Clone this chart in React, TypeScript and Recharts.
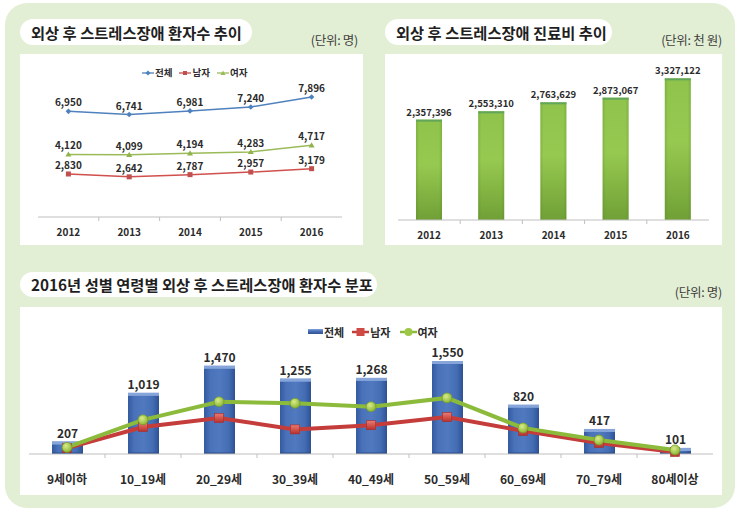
import React from 'react';
import { LineChart, Line, BarChart, Bar, ComposedChart, XAxis, YAxis, LabelList } from 'recharts';

// ---------- data ----------
const years = ['2012', '2013', '2014', '2015', '2016'];
const totalPatients = [6950, 6741, 6981, 7240, 7896];
const malePatients = [2830, 2642, 2787, 2957, 3179];
const femalePatients = [4120, 4099, 4194, 4283, 4717];
const medicalCost = [2357396, 2553310, 2763629, 2873067, 3327122];

const ageGroups = ['9세이하', '10_19세', '20_29세', '30_39세', '40_49세', '50_59세', '60_69세', '70_79세', '80세이상'];
const ageTotal = [207, 1019, 1470, 1255, 1268, 1550, 820, 417, 101];
const ageMale = [97, 450, 600, 410, 480, 615, 385, 185, 33];
const ageFemale = [110, 569, 870, 845, 788, 935, 435, 232, 68];

const seriesNames = ['전체', '남자', '여자'];
const titles = [
  '외상 후 스트레스장애 환자수 추이',
  '외상 후 스트레스장애 진료비 추이',
  '2016년 성별 연령별 외상 후 스트레스장애 환자수 분포',
];
const units = ['(단위: 명)', '(단위: 천 원)', '(단위: 명)'];

const yearData = years.map((y, i) => ({
  year: y,
  total: totalPatients[i],
  male: malePatients[i],
  female: femalePatients[i],
  cost: medicalCost[i],
}));
const ageData = ageGroups.map((g, i) => ({
  group: g,
  total: ageTotal[i],
  male: ageMale[i],
  female: ageFemale[i],
}));

// ---------- style ----------
const FONT = "'Noto Sans CJK KR', 'Noto Sans', sans-serif";
const LABEL_COLOR = '#2b2b2b';
const AXIS_COLOR = '#bfbfbf';
const BG_GREEN = '#e3efd5';
const fmt = (v: any) => Number(v).toLocaleString('en-US');

const CategoryTick = (props: any) => {
  const { x, y, payload, band, lastLabel, fontSize, dy } = props;
  const isLast = payload.value === lastLabel;
  return (
    <g>
      {!isLast && (
        <line x1={x + band / 2} x2={x + band / 2} y1={y} y2={y + 4} stroke={AXIS_COLOR} strokeWidth={1} />
      )}
      <text
        x={x}
        y={y + dy}
        textAnchor="middle"
        fontSize={fontSize}
        fontWeight="bold"
        fill={LABEL_COLOR}
        fontFamily={FONT}
      >
        {payload.value}
      </text>
    </g>
  );
};

// ---------- chart 1 : line ----------
const W1 = 343, H1 = 191;
const M1 = { top: 11, right: 21, bottom: 0, left: 18 };
const BAND1 = (W1 - M1.left - M1.right) / years.length;

const smallDot = (shape: string, color: string) => (p: any) => {
  const { cx, cy, index } = p;
  if (cx == null || cy == null) return <g key={index} />;
  if (shape === 'square') return <rect key={index} x={cx - 2.5} y={cy - 2.5} width={5} height={5} fill={color} />;
  if (shape === 'triangle')
    return <path key={index} d={`M${cx},${cy - 3} L${cx + 3},${cy + 2.2} L${cx - 3},${cy + 2.2} Z`} fill={color} />;
  return <path key={index} d={`M${cx},${cy - 2.8} L${cx + 2.8},${cy} L${cx},${cy + 2.8} L${cx - 2.8},${cy} Z`} fill={color} />;
};

const labelProps = { fill: LABEL_COLOR, fontSize: 10, fontWeight: 'bold', fontFamily: FONT } as any;

const Chart1 = () => (
  <LineChart width={W1} height={H1} data={yearData} margin={M1}>
    <XAxis
      dataKey="year"
      interval={0}
      height={28}
      padding={{ left: BAND1 / 2, right: BAND1 / 2 }}
      axisLine={{ stroke: AXIS_COLOR }}
      tickLine={false}
      tickSize={0}
      tickMargin={0}
      tick={(p: any) => <CategoryTick {...p} band={BAND1} lastLabel={years[years.length - 1]} fontSize={10} dy={18.5} />}
    />
    <YAxis hide domain={[0, 10000]} />
    <Line dataKey="total" stroke="#4f81bd" strokeWidth={1.5} dot={smallDot('diamond', '#4f81bd')} isAnimationActive={false}>
      <LabelList dataKey="total" position="top" offset={5} formatter={fmt} {...labelProps} />
    </Line>
    <Line dataKey="male" stroke="#d0504d" strokeWidth={1.5} dot={smallDot('square', '#c0504d')} isAnimationActive={false}>
      <LabelList dataKey="male" position="top" offset={5} formatter={fmt} {...labelProps} />
    </Line>
    <Line dataKey="female" stroke="#9bbb59" strokeWidth={1.5} dot={smallDot('triangle', '#8fb34a')} isAnimationActive={false}>
      <LabelList dataKey="female" position="top" offset={5} formatter={fmt} {...labelProps} />
    </Line>
  </LineChart>
);

// ---------- chart 2 : bar ----------
const W2 = 337, H2 = 191;
const M2 = { top: 17, right: 13, bottom: 0, left: 13 };
const BAND2 = (W2 - M2.left - M2.right) / years.length;

const GreenBar = (p: any) => {
  const { x, y, width, height } = p;
  if (!height || height <= 0) return <g />;
  return (
    <g>
      <rect x={x} y={y} width={width} height={height} fill="url(#greenBody)" />
      <rect x={x} y={y} width={width} height={height} fill="url(#greenSide)" />
      <rect x={x} y={y} width={width} height={2} fill="#62a65a" />
    </g>
  );
};

const Chart2 = () => (
  <BarChart width={W2} height={H2} data={yearData} margin={M2}>
    <defs>
      <linearGradient id="greenBody" x1="0" y1="0" x2="0" y2="1">
        <stop offset="0" stopColor="#8fc34b" />
        <stop offset="0.45" stopColor="#96c950" />
        <stop offset="1" stopColor="#70a036" />
      </linearGradient>
      <linearGradient id="greenSide" x1="0" y1="0" x2="1" y2="0">
        <stop offset="0" stopColor="#4a7a20" stopOpacity="0.25" />
        <stop offset="0.12" stopColor="#4a7a20" stopOpacity="0" />
        <stop offset="0.88" stopColor="#4a7a20" stopOpacity="0" />
        <stop offset="1" stopColor="#4a7a20" stopOpacity="0.25" />
      </linearGradient>
    </defs>
    <XAxis
      dataKey="year"
      interval={0}
      height={25}
      axisLine={{ stroke: AXIS_COLOR }}
      tickLine={false}
      tickSize={0}
      tickMargin={0}
      tick={(p: any) => <CategoryTick {...p} band={BAND2} lastLabel={years[years.length - 1]} fontSize={10} dy={18.5} />}
    />
    <YAxis hide domain={[0, 3500000]} />
    <Bar dataKey="cost" barSize={26} shape={GreenBar} isAnimationActive={false}>
      <LabelList dataKey="cost" position="top" offset={4} formatter={fmt} fill={LABEL_COLOR} fontSize={9.5} fontWeight="bold" fontFamily={FONT} />
    </Bar>
  </BarChart>
);

// ---------- chart 3 : composed ----------
const W3 = 702, H3 = 188;
const M3 = { top: 27, right: 9, bottom: 0, left: 9 };
const BAND3 = (W3 - M3.left - M3.right) / ageGroups.length;

const BlueBar = (p: any) => {
  const { x, y, width, height } = p;
  if (!height || height <= 0) return <g />;
  return (
    <g>
      <rect x={x} y={y} width={width} height={height} fill="url(#blueBody)" />
      <rect x={x} y={y} width={width} height={Math.min(3, height)} fill="#86a5da" />
      <rect x={x} y={y + height - 1.5} width={width} height={1.5} fill="#2b4c8c" />
    </g>
  );
};

const redSquare = (p: any) => {
  const { cx, cy, index } = p;
  if (cx == null || cy == null) return <g key={index} />;
  return <rect key={index} x={cx - 4.5} y={cy - 4.5} width={9} height={9} fill="url(#redMarker)" stroke="#a82c28" strokeWidth={0.6} />;
};
const greenCircle = (p: any) => {
  const { cx, cy, index } = p;
  if (cx == null || cy == null) return <g key={index} />;
  return <circle key={index} cx={cx} cy={cy} r={5} fill="url(#greenMarker)" stroke="#6f9a25" strokeWidth={0.7} />;
};

const Chart3 = () => (
  <ComposedChart width={W3} height={H3} data={ageData} margin={M3}>
    <defs>
      <linearGradient id="blueBody" x1="0" y1="0" x2="1" y2="0">
        <stop offset="0" stopColor="#34599f" />
        <stop offset="0.2" stopColor="#4a72b9" />
        <stop offset="0.5" stopColor="#5179bf" />
        <stop offset="0.8" stopColor="#456db4" />
        <stop offset="1" stopColor="#2e5193" />
      </linearGradient>
      <linearGradient id="redMarker" x1="0" y1="0" x2="0" y2="1">
        <stop offset="0" stopColor="#ec7a70" />
        <stop offset="1" stopColor="#b8302c" />
      </linearGradient>
      <radialGradient id="greenMarker" cx="0.4" cy="0.35" r="0.7">
        <stop offset="0" stopColor="#d9ec8a" />
        <stop offset="1" stopColor="#86b22e" />
      </radialGradient>
    </defs>
    <XAxis
      dataKey="group"
      interval={0}
      height={41}
      axisLine={{ stroke: AXIS_COLOR }}
      tickLine={false}
      tickSize={0}
      tickMargin={0}
      tick={(p: any) => <CategoryTick {...p} band={BAND3} lastLabel={ageGroups[ageGroups.length - 1]} fontSize={12} dy={29.5} />}
    />
    <YAxis hide domain={[0, 2000]} />
    <Bar dataKey="total" barSize={31} shape={BlueBar} isAnimationActive={false}>
      <LabelList dataKey="total" position="top" offset={4} formatter={fmt} fill={LABEL_COLOR} fontSize={12} fontWeight="bold" fontFamily={FONT} />
    </Bar>
    <Line dataKey="male" stroke="#c43d3a" strokeWidth={4} dot={redSquare} isAnimationActive={false} />
    <Line dataKey="female" stroke="#8cbb3c" strokeWidth={4} dot={greenCircle} isAnimationActive={false} />
  </ComposedChart>
);

// ---------- legends ----------
const LegendLine = ({ color, marker }: { color: string; marker: string }) => (
  <svg width={12} height={8} style={{ display: 'block' }}>
    <line x1={0} x2={12} y1={4} y2={4} stroke={color} strokeWidth={1.3} />
    {marker === 'square' && <rect x={4} y={2} width={4} height={4} fill={color} />}
    {marker === 'diamond' && <path d="M6,1.5 L8.5,4 L6,6.5 L3.5,4 Z" fill={color} />}
    {marker === 'triangle' && <path d="M6,1.5 L8.5,6 L3.5,6 Z" fill={color} />}
  </svg>
);

const Legend1 = () => {
  const items = [
    { name: seriesNames[0], color: '#4f81bd', marker: 'diamond' },
    { name: seriesNames[1], color: '#c0504d', marker: 'square' },
    { name: seriesNames[2], color: '#9bbb59', marker: 'triangle' },
  ];
  return (
    <div style={{ position: 'absolute', left: 142, top: 65, height: 15, display: 'flex', alignItems: 'center' }}>
      {items.map((it, i) => (
        <div key={i} style={{ display: 'flex', alignItems: 'center', marginRight: i < 2 ? 7 : 0 }}>
          <LegendLine color={it.color} marker={it.marker} />
          <span style={{ fontSize: 9.5, fontWeight: 'bold', color: LABEL_COLOR, marginLeft: 1, lineHeight: '15px' }}>{it.name}</span>
        </div>
      ))}
    </div>
  );
};

const Legend3 = () => (
  <div style={{ position: 'absolute', left: 308, top: 324, height: 16, display: 'flex', alignItems: 'center' }}>
    <svg width={15} height={8} style={{ display: 'block' }}>
      <defs>
        <linearGradient id="legBlue" x1="0" y1="0" x2="0" y2="1">
          <stop offset="0" stopColor="#86a5da" />
          <stop offset="0.4" stopColor="#4a72b9" />
          <stop offset="1" stopColor="#2e5193" />
        </linearGradient>
      </defs>
      <rect x={0} y={1} width={15} height={5} fill="url(#legBlue)" />
    </svg>
    <span style={{ fontSize: 11, fontWeight: 'bold', color: LABEL_COLOR, marginLeft: 1, marginRight: 8, lineHeight: '16px' }}>{seriesNames[0]}</span>
    <svg width={17} height={10} style={{ display: 'block' }}>
      <line x1={0} x2={17} y1={5} y2={5} stroke="#c43d3a" strokeWidth={2.5} />
      <rect x={4.5} y={1} width={8} height={8} fill="#cf4a44" />
    </svg>
    <span style={{ fontSize: 11, fontWeight: 'bold', color: LABEL_COLOR, marginLeft: 1, marginRight: 9, lineHeight: '16px' }}>{seriesNames[1]}</span>
    <svg width={17} height={10} style={{ display: 'block' }}>
      <line x1={0} x2={17} y1={5} y2={5} stroke="#8cbb3c" strokeWidth={2.5} />
      <circle cx={8.5} cy={5} r={4} fill="#9cc845" />
    </svg>
    <span style={{ fontSize: 11, fontWeight: 'bold', color: LABEL_COLOR, marginLeft: 1, lineHeight: '16px' }}>{seriesNames[2]}</span>
  </div>
);

// ---------- layout helpers ----------
const Pill = ({ left, top, width, height, text }: any) => (
  <div
    style={{
      position: 'absolute', left, top, width, height, background: '#fff', borderRadius: height / 2,
      display: 'flex', alignItems: 'center', paddingLeft: 11, boxSizing: 'border-box',
    }}
  >
    <span style={{ fontSize: 15.3, fontWeight: 'bold', color: '#1f1f1f', whiteSpace: 'nowrap', lineHeight: `${height}px` }}>{text}</span>
  </div>
);

const Unit = ({ right, centerY, text }: any) => (
  <div
    style={{
      position: 'absolute', right: 743 - right, top: centerY - 8, height: 16, lineHeight: '16px',
      fontSize: 12.5, color: '#404040', whiteSpace: 'nowrap', letterSpacing: -0.3,
    }}
  >
    {text}
  </div>
);

export default function App() {
  return (
    <div
      style={{
        position: 'absolute', left: 0, top: 0, width: 743, height: 514, background: '#fff',
        overflow: 'hidden', fontFamily: FONT,
      }}
    >
      <div style={{ position: 'absolute', left: 5, top: 3, width: 730, height: 505, background: BG_GREEN, borderRadius: 22 }} />

      {/* top-left */}
      <Pill left={20} top={19} width={232} height={26} text={titles[0]} />
      <Unit right={358} centerY={40} text={units[0]} />
      <div style={{ position: 'absolute', left: 20, top: 54, width: W1, height: H1, background: '#fff' }}>
        <Chart1 />
      </div>
      <Legend1 />

      {/* top-right */}
      <Pill left={385} top={19} width={227} height={26} text={titles[1]} />
      <Unit right={722} centerY={40} text={units[1]} />
      <div style={{ position: 'absolute', left: 385, top: 54, width: W2, height: H2, background: '#fff' }}>
        <Chart2 />
      </div>

      {/* bottom */}
      <Pill left={20} top={272} width={357} height={25} text={titles[2]} />
      <Unit right={722} centerY={292} text={units[2]} />
      <div style={{ position: 'absolute', left: 20, top: 307, width: W3, height: H3, background: '#fff' }}>
        <Chart3 />
      </div>
      <Legend3 />
    </div>
  );
}
